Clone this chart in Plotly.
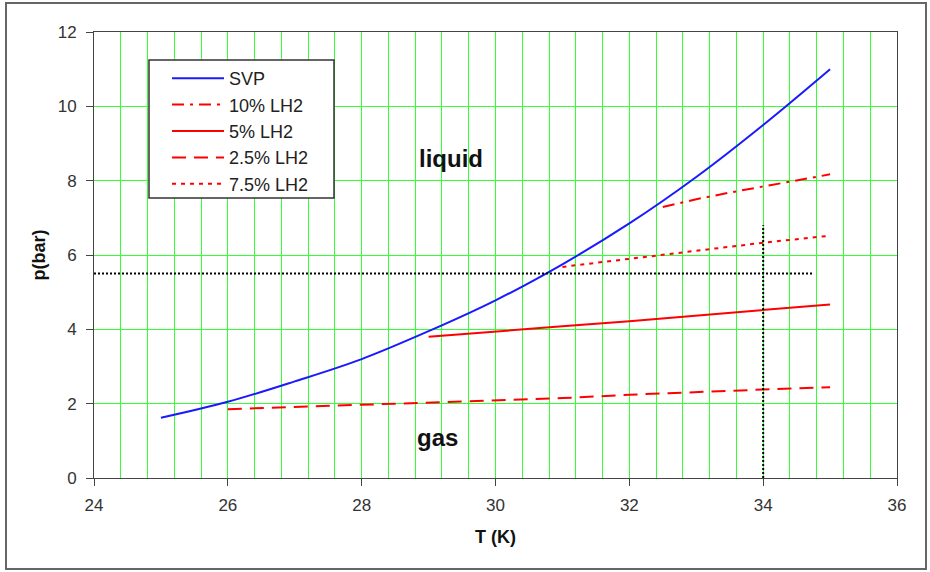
import plotly.graph_objects as go

# Saturated vapour pressure curve, T in K, p in bar
svp_T = [25, 26, 27, 28, 29, 30, 31, 32, 33, 34, 35]
svp_p = [1.62, 2.05, 2.6, 3.2, 3.95, 4.78, 5.75, 6.85, 8.1, 9.5, 11.0]

# Mixture curves
lh2_10_T = [32.5, 33.0, 33.5, 34.0, 34.5, 35.0]
lh2_10_p = [7.29, 7.5, 7.68, 7.84, 8.0, 8.17]

lh2_5_T = [29, 30, 31, 32, 33, 34, 35]
lh2_5_p = [3.8, 3.95, 4.08, 4.22, 4.37, 4.52, 4.67]

lh2_25_T = [26, 27, 27.5, 28, 29, 30, 31, 32, 33, 34, 35]
lh2_25_p = [1.85, 1.91, 1.93, 1.98, 2.03, 2.08, 2.15, 2.24, 2.32, 2.38, 2.44]

lh2_75_T = [31, 32, 33, 34, 35]
lh2_75_p = [5.68, 5.9, 6.1, 6.33, 6.52]

# Operating point guides
guide_p = 5.5
guide_T_end = 34.75
guide_T = 34.0
guide_p_top = 6.8

red = "#ff0000"
green = "#33ff33"
font_family = "Liberation Sans, Arial, sans-serif"

fig = go.Figure()

fig.add_trace(go.Scatter(x=svp_T, y=svp_p, mode="lines", name="SVP",
                         line=dict(color="#1a1aff", width=2, shape="spline")))
fig.add_trace(go.Scatter(x=lh2_10_T, y=lh2_10_p, mode="lines", name="10% LH2",
                         line=dict(color=red, width=2, dash="12px,6px,3px,6px")))
fig.add_trace(go.Scatter(x=lh2_5_T, y=lh2_5_p, mode="lines", name="5% LH2",
                         line=dict(color=red, width=2)))
fig.add_trace(go.Scatter(x=lh2_25_T, y=lh2_25_p, mode="lines", name="2.5% LH2",
                         line=dict(color=red, width=2, dash="14px,8px")))
fig.add_trace(go.Scatter(x=lh2_75_T, y=lh2_75_p, mode="lines", name="7.5% LH2",
                         line=dict(color=red, width=2, dash="4px,5px")))

fig.add_trace(go.Scatter(x=[24, guide_T_end], y=[guide_p, guide_p], mode="lines",
                         showlegend=False, hoverinfo="skip",
                         line=dict(color="black", width=2, dash="2px,2px")))
fig.add_trace(go.Scatter(x=[guide_T, guide_T], y=[0, guide_p_top], mode="lines",
                         showlegend=False, hoverinfo="skip",
                         line=dict(color="black", width=2, dash="2px,2px")))

axis_font = dict(family=font_family, size=17, color="#333333")
title_font = dict(family=font_family, size=18, color="#111111")

fig.update_xaxes(
    range=[24, 36], dtick=2, tick0=24,
    showgrid=True, gridcolor=green, gridwidth=1,
    minor=dict(dtick=0.4, tick0=24, showgrid=True, gridcolor=green, gridwidth=1),
    showline=True, linecolor="#444444", linewidth=1, mirror=True,
    ticks="outside", ticklen=7, tickcolor="#444444",
    zeroline=False, tickfont=axis_font, ticklabelstandoff=5,
    title=dict(text="<b>T (K)</b>", font=title_font, standoff=15),
)
fig.update_yaxes(
    range=[0, 12], dtick=2, tick0=0,
    showgrid=True, gridcolor=green, gridwidth=1,
    showline=True, linecolor="#444444", linewidth=1, mirror=True,
    ticks="outside", ticklen=7, tickcolor="#444444",
    zeroline=False, tickfont=axis_font, ticklabelstandoff=6,
    title=dict(text="<b>p(bar)</b>", font=title_font, standoff=7),
)

# Legend frame and outer chart frame
fig.add_shape(type="rect", xref="paper", yref="paper",
              x0=(149 - 94) / 803, x1=(334 - 94) / 803,
              y0=(478 - 198) / 446, y1=(478 - 60) / 446,
              line=dict(color="#333333", width=1.5), fillcolor="white", layer="above")
fig.add_shape(type="rect", xref="paper", yref="paper",
              x0=(6 - 94) / 803, x1=(926 - 94) / 803,
              y0=(478 - 569) / 446, y1=(478 - 3) / 446,
              line=dict(color="#666666", width=2), fillcolor="rgba(0,0,0,0)", layer="below")

label_font = dict(family=font_family, size=24, color="#111111")
fig.add_annotation(x=29.33, y=8.6, text="<b>liquid</b>", showarrow=False, font=label_font)
fig.add_annotation(x=29.13, y=1.1, text="<b>gas</b>", showarrow=False, font=label_font)

fig.update_layout(
    width=930, height=572,
    margin=dict(l=94, r=33, t=32, b=94),
    paper_bgcolor="white", plot_bgcolor="white",
    showlegend=True,
    legend=dict(x=(167 - 94) / 803, y=(478 - 60) / 446, xanchor="left", yanchor="top",
                bgcolor="rgba(0,0,0,0)", borderwidth=0, itemwidth=52,
                font=dict(family=font_family, size=18, color="#222222"),
                tracegroupgap=0, traceorder="normal"),
)

fig.write_html("out.html")
